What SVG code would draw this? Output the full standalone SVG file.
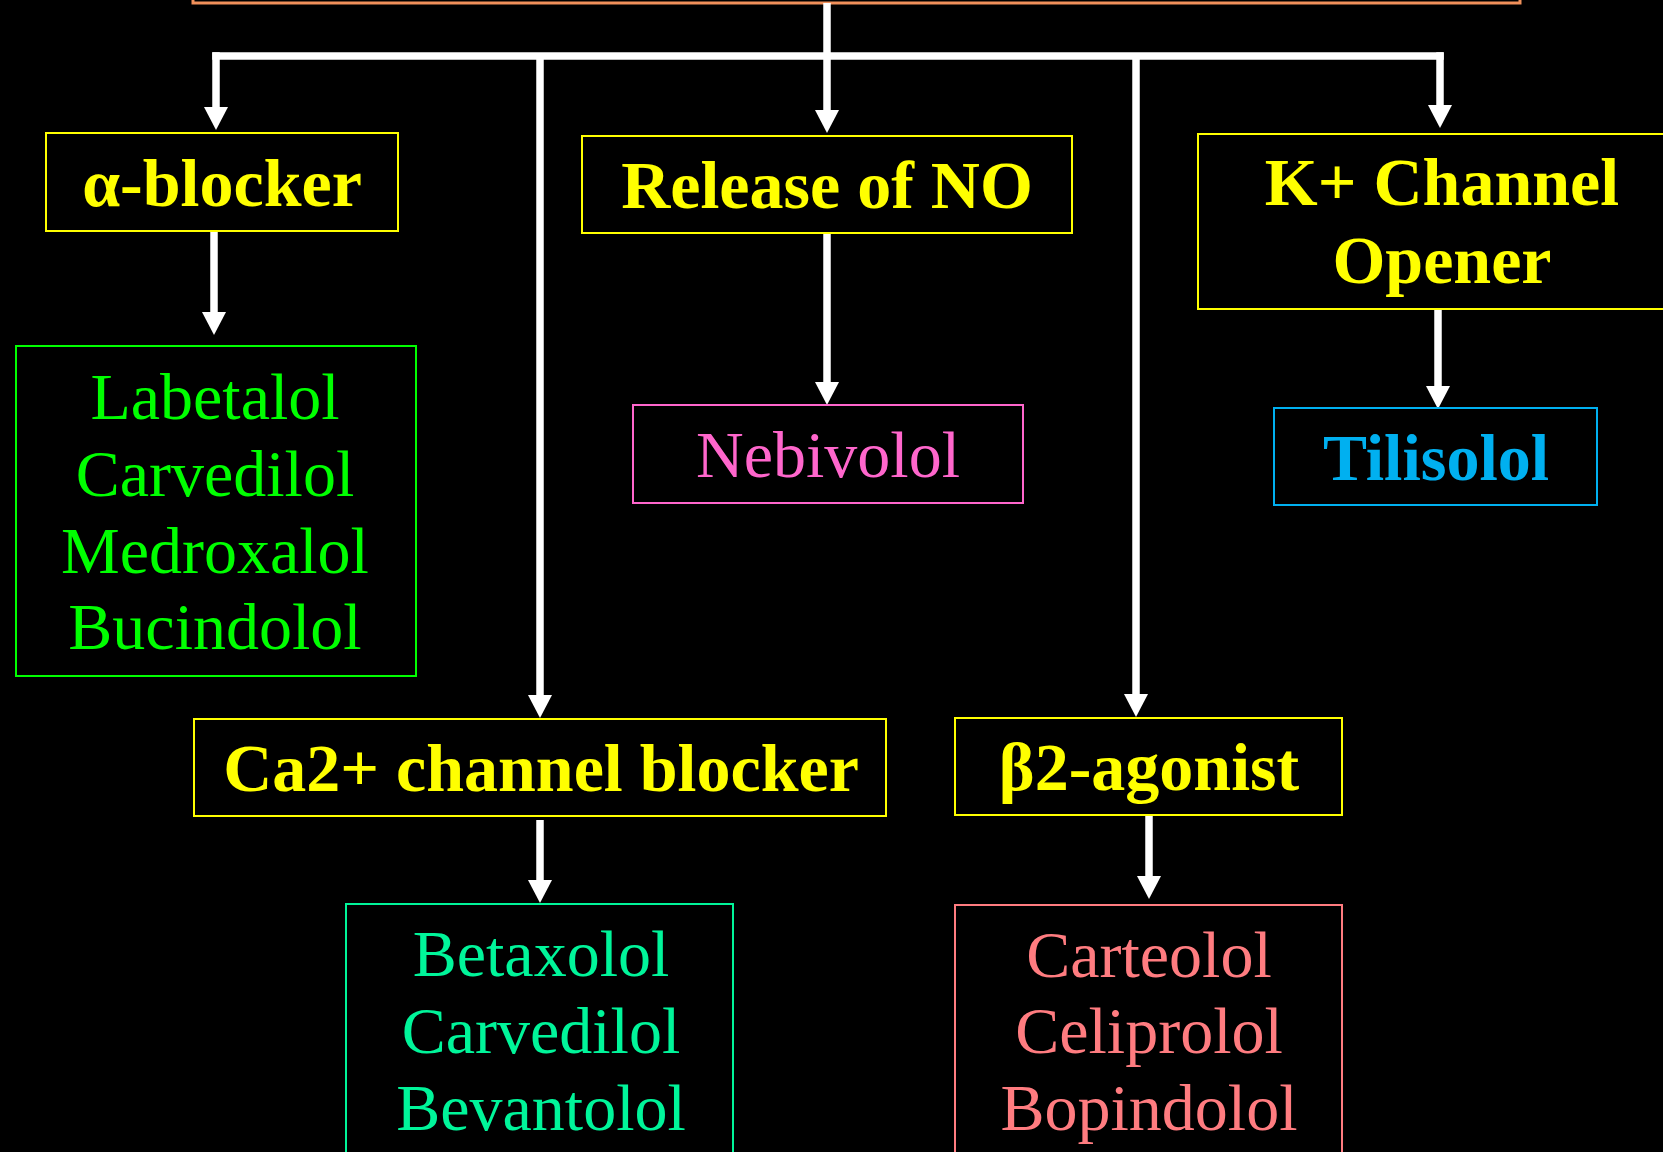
<svg xmlns="http://www.w3.org/2000/svg" width="1663" height="1152" viewBox="0 0 1663 1152">
  <style>
    .box { fill: #000; stroke-width: 2; }
    .cat { fill: #FFFF00; font-family: "Liberation Serif", "Times New Roman", serif; font-weight: bold; font-size: 68px; text-anchor: middle; }
    .drug { font-family: "Liberation Serif", "Times New Roman", serif; font-size: 66px; text-anchor: middle; }
    .conn { stroke: #FFFFFF; stroke-width: 7.5; fill: none; }
  </style>
  <defs>
    <marker id="arrow" markerUnits="userSpaceOnUse" viewBox="0 0 23 24" markerWidth="23" markerHeight="24" refX="0" refY="12" orient="auto">
      <path d="M0,0 L23,12 L0,24 Z" fill="#FFFFFF"/>
    </marker>
  </defs>
  <rect x="0" y="0" width="1663" height="1152" fill="#000000"/>

  <g id="top">
    <rect x="193" y="-100" width="1327" height="103" fill="#000" stroke="#F0905A" stroke-width="3"/>
  </g>

  <g id="connectors">
    <line class="conn" x1="827" y1="3" x2="827" y2="59"/>
    <line class="conn" x1="212.25" y1="56" x2="1443.75" y2="56"/>
    <line class="conn" x1="216" y1="52.25" x2="216" y2="107" marker-end="url(#arrow)"/>
    <line class="conn" x1="827" y1="56" x2="827" y2="110" marker-end="url(#arrow)"/>
    <line class="conn" x1="540" y1="56" x2="540" y2="695" marker-end="url(#arrow)"/>
    <line class="conn" x1="1136" y1="56" x2="1136" y2="694" marker-end="url(#arrow)"/>
    <line class="conn" x1="1440" y1="52.25" x2="1440" y2="105" marker-end="url(#arrow)"/>
    <line class="conn" x1="214" y1="226" x2="214" y2="312" marker-end="url(#arrow)"/>
    <line class="conn" x1="827" y1="233" x2="827" y2="382" marker-end="url(#arrow)"/>
    <line class="conn" x1="1438" y1="309" x2="1438" y2="386" marker-end="url(#arrow)"/>
    <line class="conn" x1="540" y1="820" x2="540" y2="880" marker-end="url(#arrow)"/>
    <line class="conn" x1="1149" y1="815" x2="1149" y2="876" marker-end="url(#arrow)"/>
  </g>

  <g id="alpha-blocker">
    <rect class="box" x="46" y="133" width="352" height="98" stroke="#FFFF00"/>
    <text class="cat" x="222" y="206">α-blocker</text>
  </g>

  <g id="release-no">
    <rect class="box" x="582" y="136" width="490" height="97" stroke="#FFFF00"/>
    <text class="cat" x="827" y="208">Release of NO</text>
  </g>

  <g id="k-channel">
    <rect class="box" x="1198" y="134" width="520" height="175" stroke="#FFFF00"/>
    <text class="cat" x="1442" y="205">K+ Channel</text>
    <text class="cat" x="1442" y="283">Opener</text>
  </g>

  <g id="alpha-drugs">
    <rect class="box" x="16" y="346" width="400" height="330" stroke="#00FF00"/>
    <text class="drug" fill="#00FF00" x="215" y="419">Labetalol</text>
    <text class="drug" fill="#00FF00" x="215" y="496">Carvedilol</text>
    <text class="drug" fill="#00FF00" x="215" y="573">Medroxalol</text>
    <text class="drug" fill="#00FF00" x="215" y="649">Bucindolol</text>
  </g>

  <g id="nebivolol">
    <rect class="box" x="633" y="405" width="390" height="98" stroke="#FF66CC"/>
    <text class="drug" fill="#FF66CC" x="828" y="477">Nebivolol</text>
  </g>

  <g id="tilisolol">
    <rect class="box" x="1274" y="408" width="323" height="97" stroke="#00B0F0"/>
    <text class="drug" fill="#00B0F0" font-weight="bold" font-size="69" x="1436" y="480">Tilisolol</text>
  </g>

  <g id="ca-blocker">
    <rect class="box" x="194" y="719" width="692" height="97" stroke="#FFFF00"/>
    <text class="cat" x="541" y="791">Ca2+ channel blocker</text>
  </g>

  <g id="beta2-agonist">
    <rect class="box" x="955" y="718" width="387" height="97" stroke="#FFFF00"/>
    <text class="cat" x="1149" y="790">β2-agonist</text>
  </g>

  <g id="ca-drugs">
    <rect class="box" x="346" y="904" width="387" height="300" stroke="#00F59A"/>
    <text class="drug" fill="#00F59A" x="541" y="976">Betaxolol</text>
    <text class="drug" fill="#00F59A" x="541" y="1053">Carvedilol</text>
    <text class="drug" fill="#00F59A" x="541" y="1130">Bevantolol</text>
  </g>

  <g id="beta2-drugs">
    <rect class="box" x="955" y="905" width="387" height="300" stroke="#FF7C80"/>
    <text class="drug" fill="#FF7C80" x="1149" y="977">Carteolol</text>
    <text class="drug" fill="#FF7C80" x="1149" y="1053">Celiprolol</text>
    <text class="drug" fill="#FF7C80" x="1149" y="1130">Bopindolol</text>
  </g>
</svg>
